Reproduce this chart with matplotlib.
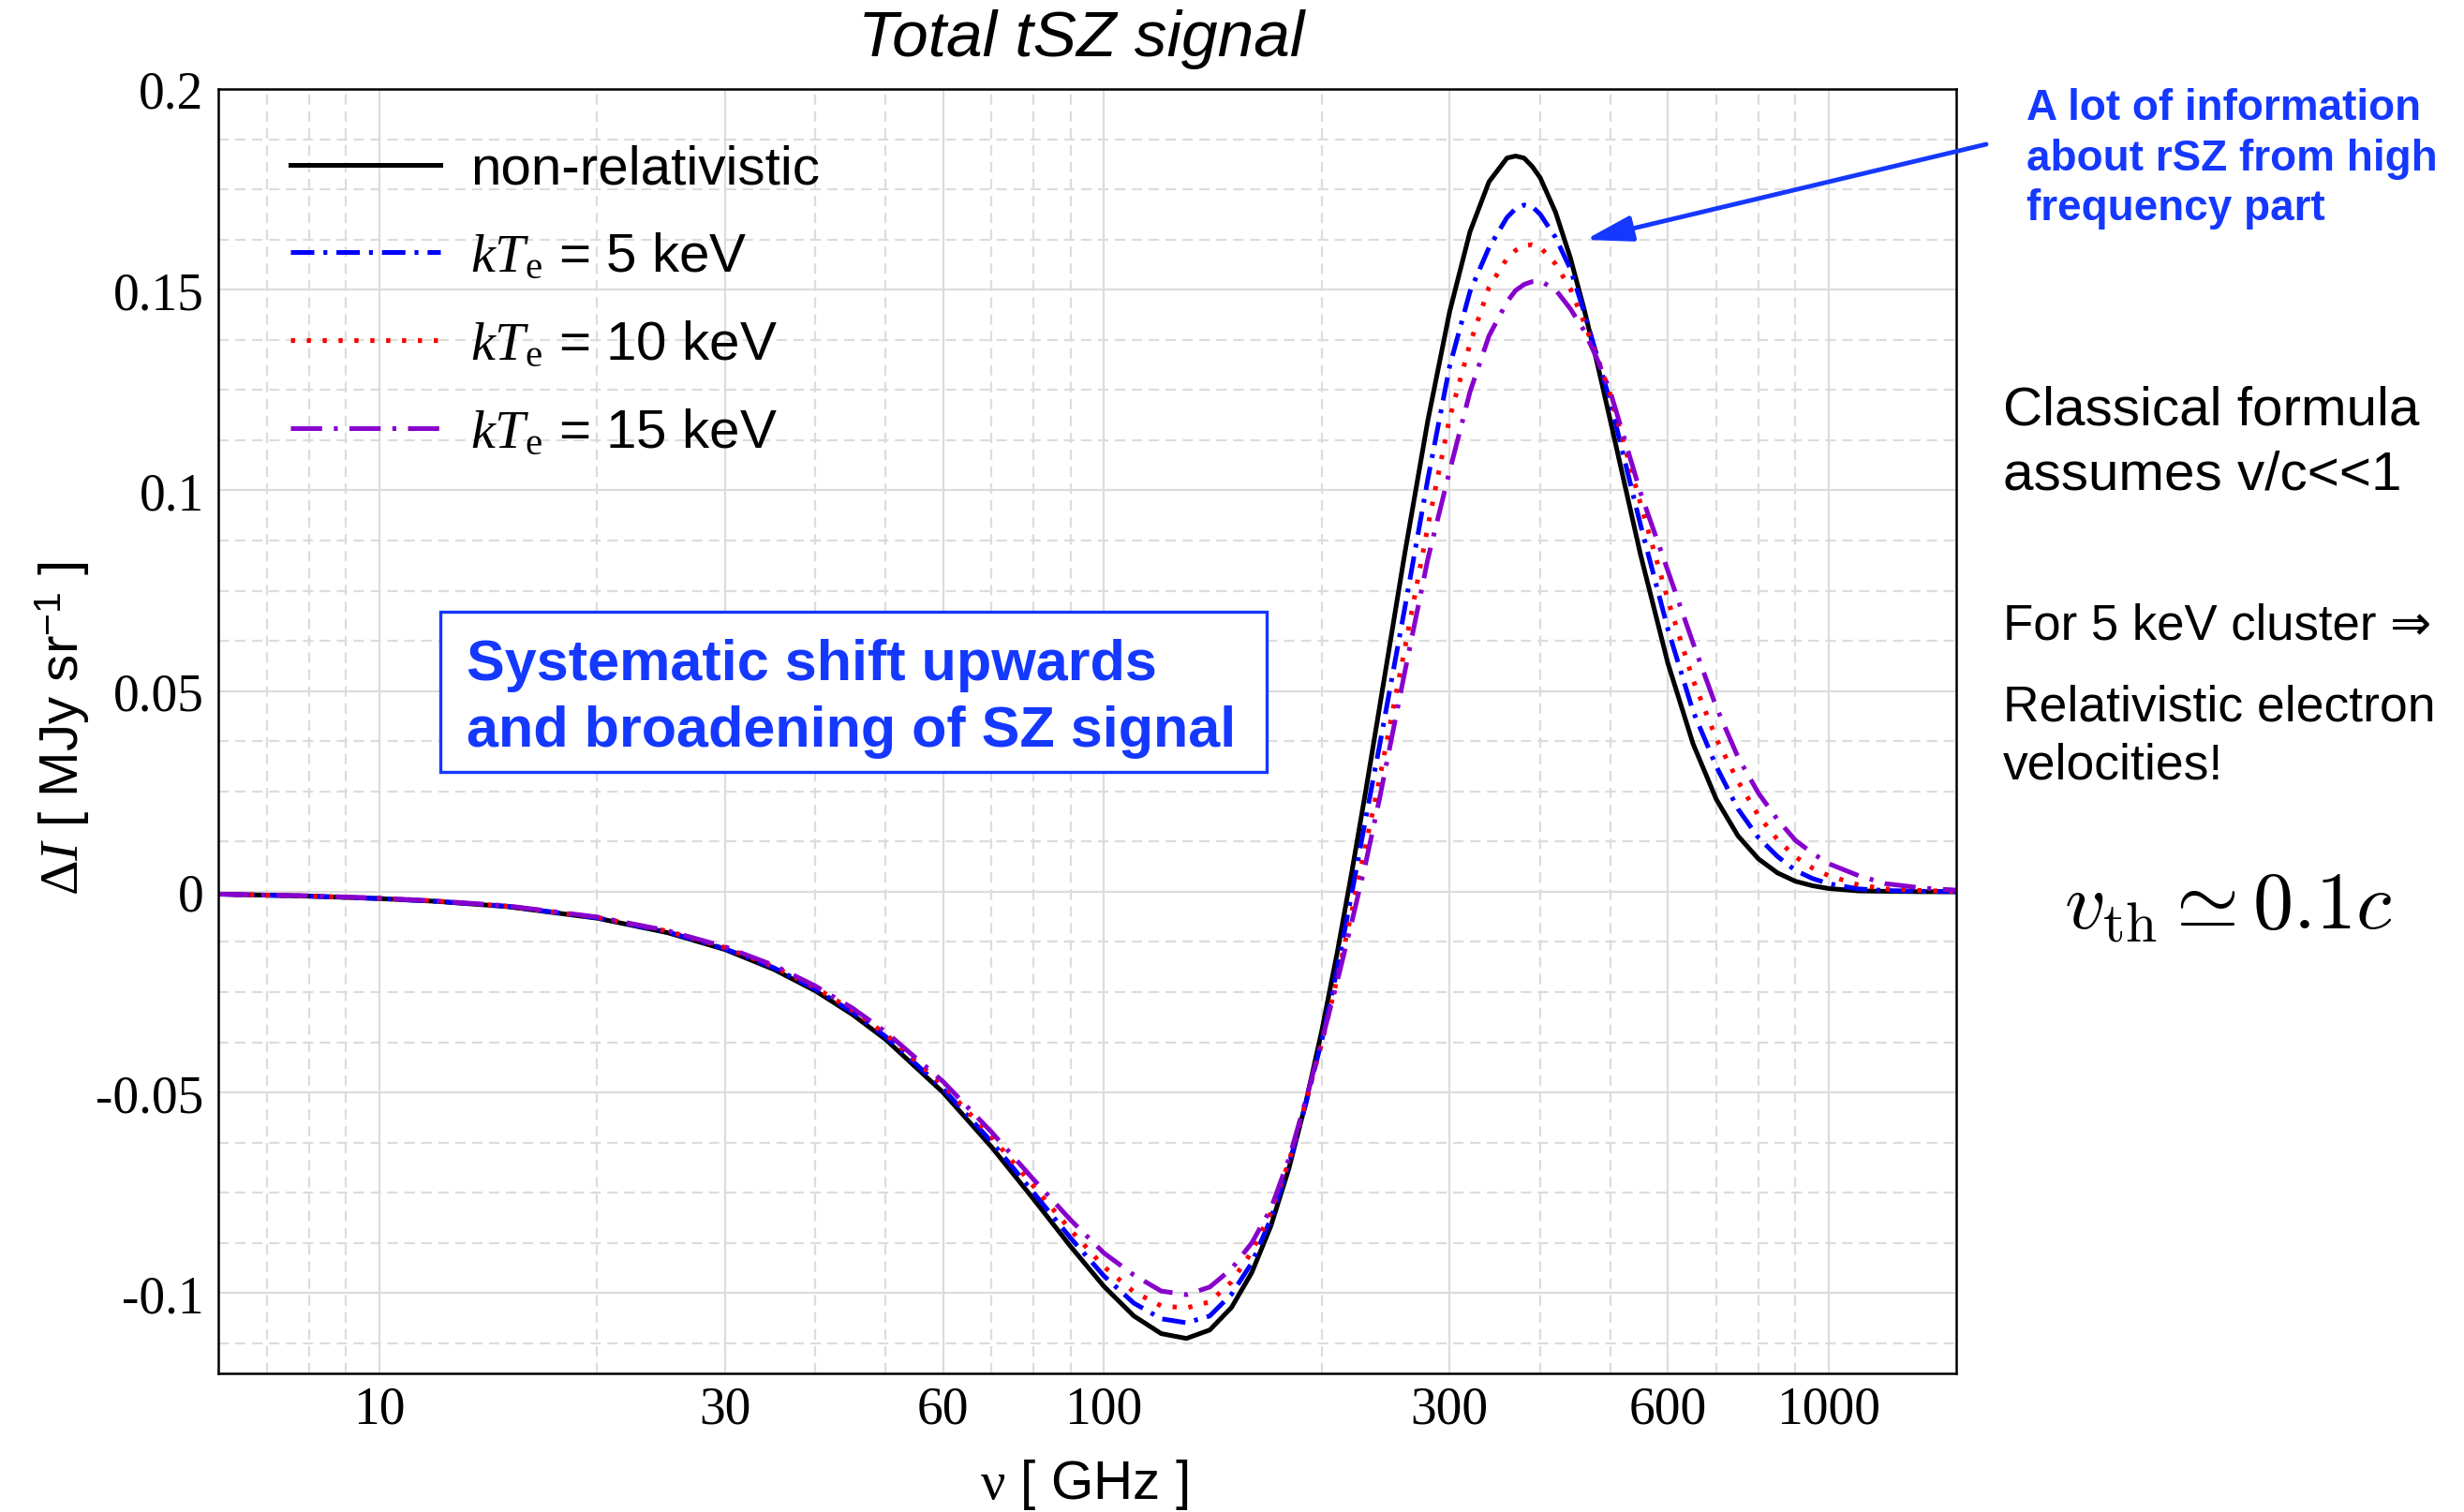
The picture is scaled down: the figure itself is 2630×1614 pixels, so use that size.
import numpy as np
import matplotlib
matplotlib.use('Agg')
import matplotlib.pyplot as plt
from matplotlib.ticker import FixedLocator, NullFormatter, MultipleLocator
from matplotlib.patches import Rectangle

# frequencies in GHz, values in MJy/sr
freq = [6, 8, 10, 12, 15, 20, 25, 30, 35, 40,
        45, 50, 60, 70, 80, 90, 100, 110, 120, 130,
        140, 150, 160, 170, 180, 190, 200, 210, 220, 230,
        240, 260, 280, 300, 320, 340, 360, 370, 380, 390,
        400, 420, 440, 460, 480, 500, 550, 600, 650, 700,
        750, 800, 850, 900, 950, 1000, 1100, 1200, 1350, 1500]

nonrel = [-0.0006, -0.0011, -0.0017, -0.0024, -0.0037, -0.0066, -0.0102, -0.0144, -0.0193, -0.0247,
          -0.0306, -0.0368, -0.0500, -0.0636, -0.0766, -0.0884, -0.0983, -0.1057, -0.1101, -0.1113,
          -0.1092, -0.1036, -0.0949, -0.0833, -0.0690, -0.0525, -0.0344, -0.0150, 0.0052, 0.0255,
          0.0457, 0.0840, 0.1175, 0.1445, 0.1644, 0.1769, 0.1828, 0.1833, 0.1828, 0.1807,
          0.1779, 0.1693, 0.1581, 0.1451, 0.1313, 0.1173, 0.0841, 0.0570, 0.0369, 0.0230,
          0.0139, 0.0082, 0.0047, 0.0026, 0.0015, 0.0008, 0.0002, 0.0001, 0.0, 0.0]

kt5 = [-0.0006, -0.0011, -0.0017, -0.0024, -0.0036, -0.0065, -0.0100, -0.0142, -0.0189, -0.0243,
       -0.0300, -0.0361, -0.0491, -0.0623, -0.0750, -0.0863, -0.0957, -0.1025, -0.1064, -0.1074,
       -0.1057, -0.1003, -0.0925, -0.0815, -0.0680, -0.0528, -0.0368, -0.0191, -0.0001, 0.0186,
       0.0362, 0.0704, 0.1029, 0.1309, 0.1495, 0.1605, 0.1680, 0.1702, 0.1711, 0.1707,
       0.1688, 0.1630, 0.1553, 0.1444, 0.1330, 0.1219, 0.0915, 0.0655, 0.0450, 0.0312,
       0.0206, 0.0135, 0.0088, 0.0053, 0.0033, 0.0020, 0.0007, 0.0003, 0.0001, 0.0]

kt10 = [-0.0006, -0.0011, -0.0016, -0.0023, -0.0036, -0.0064, -0.0098, -0.0139, -0.0186, -0.0239,
        -0.0295, -0.0355, -0.0482, -0.0611, -0.0734, -0.0843, -0.0934, -0.0997, -0.1032, -0.1037,
        -0.1022, -0.0972, -0.0897, -0.0800, -0.0673, -0.0524, -0.0375, -0.0215, -0.0047, 0.0119,
        0.0279, 0.0603, 0.0911, 0.1180, 0.1365, 0.1506, 0.1578, 0.1598, 0.1610, 0.1612,
        0.1606, 0.1564, 0.1503, 0.1418, 0.1330, 0.1238, 0.0968, 0.0728, 0.0528, 0.0381,
        0.0275, 0.0190, 0.0130, 0.0087, 0.0059, 0.0040, 0.0017, 0.0007, 0.0003, 0.0001]

kt15 = [-0.0006, -0.0010, -0.0016, -0.0023, -0.0035, -0.0063, -0.0097, -0.0137, -0.0183, -0.0235,
        -0.0290, -0.0349, -0.0473, -0.0599, -0.0717, -0.0818, -0.0900, -0.0955, -0.0995, -0.1004,
        -0.0985, -0.0940, -0.0875, -0.0790, -0.0666, -0.0518, -0.0370, -0.0222, -0.0073, 0.0075,
        0.0230, 0.0545, 0.0830, 0.1048, 0.1245, 0.1385, 0.1470, 0.1498, 0.1513, 0.1520,
        0.1522, 0.1500, 0.1453, 0.1398, 0.1325, 0.1245, 0.0995, 0.0800, 0.0620, 0.0460,
        0.0335, 0.0246, 0.0180, 0.0128, 0.0096, 0.0070, 0.0040, 0.0020, 0.0009, 0.0004]

labels = ['non-relativistic', r'$kT_{\mathrm{e}}$ = 5 keV',
          r'$kT_{\mathrm{e}}$ = 10 keV', r'$kT_{\mathrm{e}}$ = 15 keV']

xticks = [10, 30, 60, 100, 300, 600, 1000]
xminor = [7, 8, 9, 20, 40, 50, 70, 80, 90, 200, 400, 500, 700, 800, 900]
yticks = [-0.1, -0.05, 0, 0.05, 0.1, 0.15, 0.2]
ylabels = ['-0.1', '-0.05', '0', '0.05', '0.1', '0.15', '0.2']

plt.rcParams['font.family'] = ['Liberation Sans', 'DejaVu Sans']
plt.rcParams['mathtext.fontset'] = 'custom'
plt.rcParams['mathtext.rm'] = 'Liberation Serif'
plt.rcParams['mathtext.it'] = 'Liberation Serif:italic'
plt.rcParams['mathtext.sf'] = 'Liberation Sans'
plt.rcParams['lines.scale_dashes'] = False

blue_txt = '#1538ff'

fig = plt.figure(figsize=(26.3, 16.15), dpi=100)
ax = fig.add_axes([233/2630, 1-1467/1615, (2088-233)/2630, (1467-96)/1615])

l0, = ax.plot(freq, nonrel, color='black', lw=3.6, ls='-')
l1, = ax.plot(freq, kt5, color='#0000ff', lw=3.6, ls=(0, (18, 7, 3, 7)))
l2, = ax.plot(freq, kt10, color='#ff0000', lw=3.6, ls=(0, (3.2, 9)))
l3, = ax.plot(freq, kt15, color='#8800cc', lw=3.6, ls=(0, (24, 9, 3, 9)))

ax.set_xscale('log')
ax.set_xlim(6, 1500)
ax.set_ylim(-0.12, 0.2)
ax.xaxis.set_major_locator(FixedLocator(xticks))
ax.xaxis.set_minor_locator(FixedLocator(xminor))
ax.xaxis.set_minor_formatter(NullFormatter())
ax.set_xticklabels([str(t) for t in xticks])
ax.yaxis.set_major_locator(FixedLocator(yticks))
ax.yaxis.set_minor_locator(MultipleLocator(0.0125))
ax.set_yticklabels(ylabels)

ax.grid(which='major', color='#dcdcdc', lw=1.6, ls='-')
ax.grid(which='minor', color='#dcdcdc', lw=1.6, ls=(0, (8, 5)))
ax.set_axisbelow(True)
ax.tick_params(which='both', length=0)
ax.tick_params(axis='y', pad=11)
ax.tick_params(axis='x', pad=9)
for lab in ax.get_xticklabels() + ax.get_yticklabels():
    lab.set_fontfamily('Liberation Serif')
    lab.set_fontsize(40)
for sp in ax.spines.values():
    sp.set_linewidth(1.8)
    sp.set_color('black')

leg = ax.legend([l0, l1, l2, l3], labels, loc='upper left',
                bbox_to_anchor=((310-233)/1855, 0.957),
                frameon=False, fontsize=42, handlelength=2.75, handletextpad=0.55,
                labelspacing=0.68, borderpad=0, borderaxespad=0)

# text box
fig.add_artist(Rectangle((470/2630, 1-825/1615), 882/2630, 171/1615,
                         transform=fig.transFigure, facecolor='white',
                         edgecolor=blue_txt, lw=2.4, zorder=5))
fig.text(498/2630, 1-711/1615, 'Systematic shift upwards', color=blue_txt,
         fontsize=44, fontweight='bold', va='center', ha='left', zorder=6)
fig.text(498/2630, 1-782/1615, 'and broadening of SZ signal', color=blue_txt,
         fontsize=44, fontweight='bold', va='center', ha='left', zorder=6)

fig.text(1154/2630, 1-42/1615, 'Total tSZ signal', fontsize=50, style='italic',
         ha='center', va='center')
fig.text(67/2630, 1-778/1615, r'$\Delta I$ [ MJy sr$^{\mathsf{-1}}$ ]', fontsize=42,
         rotation=90, ha='center', va='center')
fig.text(1157/2630, 1-1585/1615, r'$\mathrm{\nu}$ [ GHz ]', fontsize=42,
         ha='center', va='center')

# right-hand notes
info = ['A lot of information', 'about rSZ from high', 'frequency part']
for i, s in enumerate(info):
    fig.text(2163/2630, 1-(116+53.7*i)/1615, s, color=blue_txt, fontsize=33,
             fontweight='bold', ha='left', va='center')
fig.text(2138/2630, 1-438/1615, 'Classical formula', fontsize=42, ha='left', va='center')
fig.text(2138/2630, 1-508/1615, 'assumes v/c<<1', fontsize=42, ha='left', va='center')
fig.text(2138/2630, 1-669/1615, 'For 5 keV cluster \u21d2', fontsize=38, ha='left', va='center')
fig.text(2138/2630, 1-756/1615, 'Relativistic electron', fontsize=38.5, ha='left', va='center')
fig.text(2138/2630, 1-818/1615, 'velocities!', fontsize=38.5, ha='left', va='center')
fig.text(2378/2630, 1-969/1615, r'$v_{\rm th} \simeq 0.1c$', fontsize=62,
         math_fontfamily='cm', ha='center', va='center')

ax.annotate('', xy=(1692, 1615-257), xytext=(2120, 1615-155),
            xycoords='figure pixels', textcoords='figure pixels',
            arrowprops=dict(arrowstyle='-|>,head_length=0.8,head_width=0.22',
                            color=blue_txt, lw=3.5, mutation_scale=38,
                            shrinkA=0, shrinkB=0),
            annotation_clip=False)

fig.savefig('out.png', dpi=100)
